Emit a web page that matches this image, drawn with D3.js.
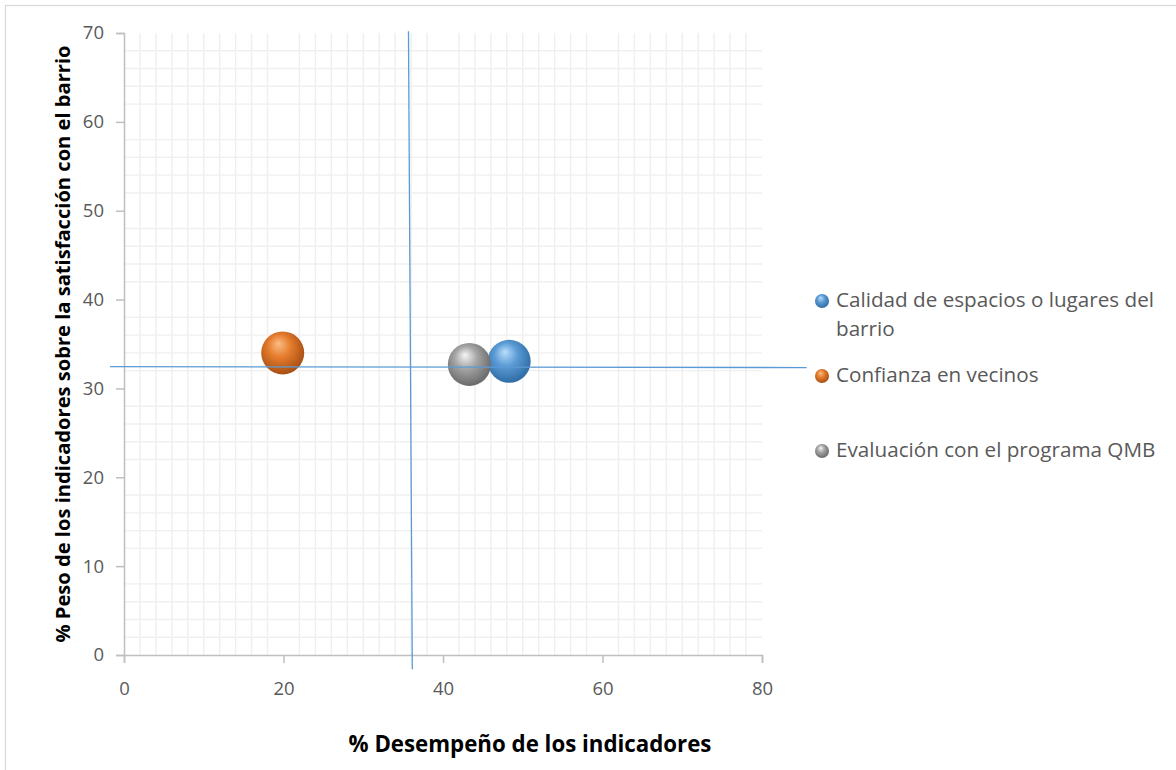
<!DOCTYPE html>
<html>
<head>
<meta charset="utf-8">
<script src="https://cdn.jsdelivr.net/npm/d3@7/dist/d3.min.js"></script>
<style>
  html, body { margin: 0; padding: 0; background: #fff; }
  svg { display: block; }
</style>
</head>
<body>
<svg id="chart" width="1176" height="770"></svg>
<script>
// Series: performance (x, %) vs weight on neighbourhood satisfaction (y, %)
const seriesNames = [
  "Calidad de espacios o lugares del barrio",
  "Confianza en vecinos",
  "Evaluación con el programa QMB"
];
const desempeno = [48.3, 19.9, 43.3];
const peso = [33.05, 34.0, 32.7];
const bubbleSize = [1, 1, 1];
const seriesColors = [
  ["#b9defa", "#5b9bd5", "#2d6aa3"],
  ["#fbbd86", "#e57b2c", "#a44d12"],
  ["#f4f4f4", "#a3a3a3", "#676767"]
];

const xTicks = [0, 20, 40, 60, 80];
const yTicks = [0, 10, 20, 30, 40, 50, 60, 70];

// Average reference lines (drawn as free lines, slightly off-axis)
const avgDesempenoLine = [[35.67, 70.2], [36.15, -1.6]];
const avgPesoLine = [[-1.75, 32.45], [85.6, 32.35]];

const xTitle = "% Desempeño de los indicadores";
const yTitle = "% Peso de los indicadores sobre la satisfacción con el barrio";

const svg = d3.select("#chart");
const font = "'Open Sans', sans-serif";

// Scale a text element's font size so that it spans the given width
function fitWidth(sel, width) {
  const node = sel.node();
  const fs = parseFloat(sel.attr("font-size"));
  const w = node.getComputedTextLength();
  sel.attr("font-size", (fs * width / w).toFixed(2));
}

const x = d3.scaleLinear().domain([0, 80]).range([124, 762]);
const y = d3.scaleLinear().domain([0, 70]).range([655, 33]);
const r = d3.scaleSqrt().domain([0, 1]).range([0, 21.5]);

// Outer chart frame
svg.append("rect")
  .attr("x", 5.5).attr("y", 5.5)
  .attr("width", 1200).attr("height", 800)
  .attr("fill", "#fff").attr("stroke", "#d9d9d9").attr("stroke-width", 1.2);

// Sphere gradients
const defs = svg.append("defs");
seriesColors.forEach((c, i) => {
  const g = defs.append("radialGradient")
    .attr("id", "sph" + i)
    .attr("cx", "45%").attr("cy", "42%").attr("r", "60%")
    .attr("fx", "40%").attr("fy", "28%");
  g.append("stop").attr("offset", "0%").attr("stop-color", c[0]);
  g.append("stop").attr("offset", "45%").attr("stop-color", c[1]);
  g.append("stop").attr("offset", "100%").attr("stop-color", c[2]);
});

// Minor gridlines every 2 units
const gx = d3.range(2, 81, 2).filter(v => v % 20 !== 0);
const gy = d3.range(2, 71, 2).filter(v => v % 10 !== 0);
const grid = svg.append("g").attr("stroke", "#efefef").attr("stroke-width", 1.4);
grid.selectAll("line.v").data(gx).join("line")
  .attr("x1", d => x(d)).attr("x2", d => x(d))
  .attr("y1", y(70)).attr("y2", y(0));
grid.selectAll("line.h").data(gy).join("line")
  .attr("x1", x(0)).attr("x2", x(80))
  .attr("y1", d => y(d)).attr("y2", d => y(d));

// Axes
const xAxis = svg.append("g")
  .attr("transform", `translate(0,${y(0)})`)
  .call(d3.axisBottom(x).tickValues(xTicks).tickSize(8).tickPadding(19));
const yAxis = svg.append("g")
  .attr("transform", `translate(${x(0)},0)`)
  .call(d3.axisLeft(y).tickValues(yTicks).tickSize(8).tickPadding(12));
[xAxis, yAxis].forEach(a => {
  a.select(".domain").attr("stroke", "#bfbfbf").attr("stroke-width", 1.5);
  a.selectAll(".tick line").attr("stroke", "#bfbfbf").attr("stroke-width", 1.5);
  a.selectAll(".tick text")
    .attr("fill", "#595959").attr("font-size", 18.5).attr("font-family", font);
});

// Bubbles
const pts = desempeno.map((d, i) => ({ x: d, y: peso[i], s: bubbleSize[i], i }));
svg.append("g").selectAll("circle").data(pts).join("circle")
  .attr("cx", d => x(d.x)).attr("cy", d => y(d.y)).attr("r", d => r(d.s))
  .attr("fill", d => `url(#sph${d.i})`);

// Reference lines
const line = d3.line().x(d => x(d[0])).y(d => y(d[1]));
[avgDesempenoLine, avgPesoLine].forEach(l => {
  svg.append("path").attr("d", line(l))
    .attr("fill", "none").attr("stroke", "#5b9bd5").attr("stroke-width", 1.3);
});

// Axis titles
const xt = svg.append("text")
  .attr("x", 530).attr("y", 752)
  .attr("text-anchor", "middle")
  .attr("font-family", font).attr("font-weight", "bold").attr("font-size", 20)
  .attr("fill", "#000").text(xTitle);
fitWidth(xt, 363);
const yt = svg.append("text")
  .attr("transform", "translate(70,344) rotate(-90)")
  .attr("text-anchor", "middle")
  .attr("font-family", font).attr("font-weight", "bold").attr("font-size", 18.5)
  .attr("fill", "#000").text(yTitle);
fitWidth(yt, 597);

// Legend
const legendRows = [
  { lines: ["Calidad de espacios o lugares del", "barrio"], y: 300 },
  { lines: ["Confianza en vecinos"], y: 375 },
  { lines: ["Evaluación con el programa QMB"], y: 450 }
];
const lg = svg.append("g");
const probe = lg.append("text").attr("font-family", font).attr("font-size", 19)
  .text(legendRows[0].lines[0]);
fitWidth(probe, 318);
const legendFs = probe.attr("font-size");
probe.remove();
legendRows.forEach((row, i) => {
  lg.append("circle").attr("cx", 822).attr("cy", row.y + 1).attr("r", 7)
    .attr("fill", `url(#sph${i})`);
  const t = lg.append("text")
    .attr("x", 836).attr("y", row.y)
    .attr("font-family", font).attr("font-size", legendFs).attr("fill", "#595959");
  row.lines.forEach((ln, k) => {
    t.append("tspan").attr("x", 836).attr("dy", k === 0 ? "0.35em" : 29).text(ln);
  });
});
</script>
</body>
</html>
